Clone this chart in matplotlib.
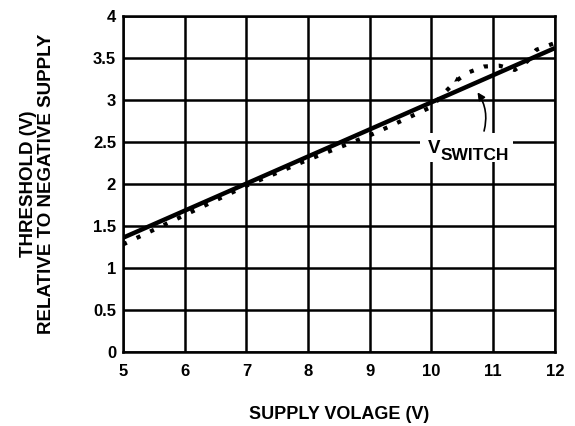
import matplotlib.pyplot as plt
from matplotlib.patches import Rectangle

plt.rcParams['font.family'] = ['Liberation Sans', 'DejaVu Sans']
plt.rcParams['font.weight'] = 'bold'

# solid: threshold vs supply
supply_solid = [5, 12]
thresh_solid = [1.36, 3.62]

# dotted: measured V_switch
supply_dot = [5, 6, 7, 8, 9, 9.3, 10, 10.2, 10.4, 10.6, 10.85, 11.1, 11.35, 11.55, 11.7, 12]
thresh_dot = [1.28, 1.63, 1.98, 2.29, 2.58, 2.68, 2.92, 3.08, 3.23, 3.33, 3.40, 3.41, 3.36, 3.46, 3.6, 3.68]

xticks = [5, 6, 7, 8, 9, 10, 11, 12]
yticks = [0, 0.5, 1, 1.5, 2, 2.5, 3, 3.5, 4]
ytick_labels = ['0', '0.5', '1', '1.5', '2', '2.5', '3', '3.5', '4']

fig = plt.figure(figsize=(5.75, 4.26), dpi=100)
ax = fig.add_axes([0.214, 0.174, 0.751, 0.788])

ax.plot(supply_solid, thresh_solid, color='black', lw=3.2, solid_capstyle='butt', zorder=3)
ax.plot(supply_dot, thresh_dot, color='black', lw=3, linestyle=(0, (1, 2.6)), zorder=3)

ax.set_xlim(5, 12)
ax.set_ylim(0, 4)
ax.set_xticks(xticks)
ax.set_yticks(yticks)
ax.set_xticklabels([str(t) for t in xticks], fontweight='bold')
ax.set_yticklabels(ytick_labels, fontweight='bold')
ax.tick_params(length=0, labelsize=12)
ax.tick_params(axis='y', pad=5)
ax.tick_params(axis='x', pad=9)
ax.grid(True, color='black', lw=1.8)
for s in ax.spines.values():
    s.set_linewidth(1.8)

ax.set_xlabel('SUPPLY VOLAGE (V)', fontsize=13, fontweight='bold', labelpad=19)
ax.set_ylabel('THRESHOLD (V)\nRELATIVE TO NEGATIVE SUPPLY', fontsize=13.5,
              fontweight='bold', labelpad=27, linespacing=1.1)

# label box cutting the grid
ax.add_patch(Rectangle((9.81, 2.26), 1.51, 0.35, facecolor='white',
                       edgecolor='none', zorder=2.5))
ax.annotate('', xy=(10.72, 3.12), xytext=(10.84, 2.6),
            arrowprops=dict(arrowstyle='-|>', color='black', lw=1.2,
                            connectionstyle='arc3,rad=0.25', mutation_scale=11),
            zorder=4)
ax.annotate('', xy=(10.33, 3.2), xytext=(10.5, 3.29),
            arrowprops=dict(arrowstyle='-|>', color='black', lw=0,
                            mutation_scale=9), zorder=4)
v = ax.text(9.94, 2.37, 'V', fontsize=13.5, fontweight='bold',
            ha='left', va='baseline', zorder=5)
ax.annotate('SWITCH', xy=(1, 0), xycoords=v, xytext=(0.3, -2.3),
            textcoords='offset points', fontsize=12.5, fontweight='bold',
            ha='left', va='baseline', zorder=5)

fig.savefig('out.png', dpi=100)
